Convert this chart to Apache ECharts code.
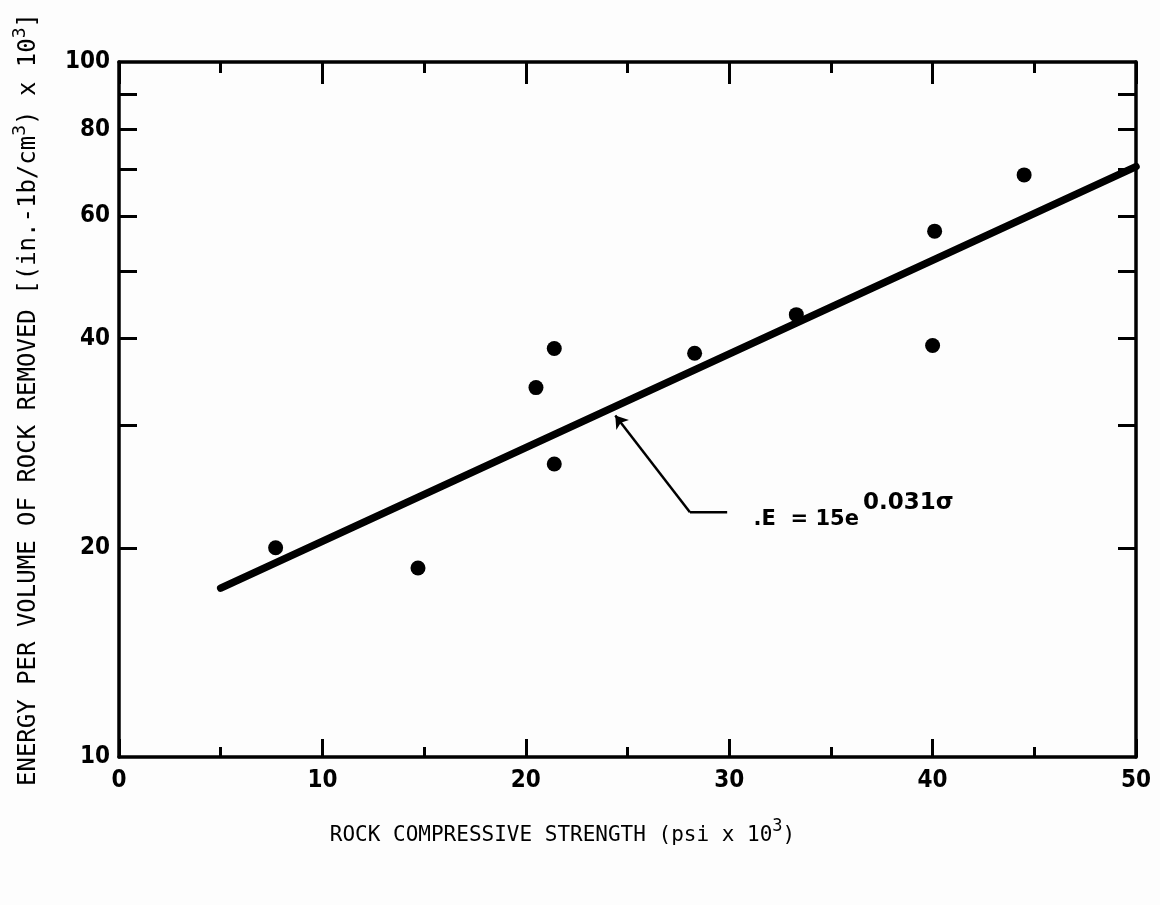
<!DOCTYPE html>
<html>
<head>
<meta charset="utf-8">
<script src="https://cdn.jsdelivr.net/npm/echarts@6/dist/echarts.min.js"></script>
<style>
html,body{margin:0;padding:0;background:#fdfdfd;}
#c{width:1160px;height:905px;}
</style>
</head>
<body>
<div id="c"></div>
<script>
// Data
const strength = [7.7, 14.7, 20.5, 21.4, 21.4, 28.3, 33.3, 40.1, 40.0, 44.5];
const energy   = [20.0, 18.7, 34.0, 38.7, 26.4, 38.1, 43.3, 57.1, 39.1, 68.8];
const fitStrength = [5, 50];
const fitEnergy   = [17.5, 70.7];
const xTickLabels = [0, 10, 20, 30, 40, 50];
const yTickValues = [20, 30, 40, 50, 60, 70, 80, 90];
const yLabelValues = [10, 20, 40, 60, 80, 100];
const leaderX = [29.9, 28.07, 24.4];
const leaderY = [22.5, 22.5, 31.0];
const equationAt = [31.2, 22.6];

const labelFont = "'Liberation Sans Narrow','DejaVu Sans Condensed',sans-serif";
const eqFont = "'DejaVu Sans',sans-serif";
const titleFont = "'DejaVu Sans Mono',monospace";
const black = '#000';

const chart = echarts.init(document.getElementById('c'), null, {renderer: 'canvas'});

const lineStyle = {color: black, width: 3.5};
const xBase = {
  type: 'value', min: 0, max: 50, interval: 10,
  axisLine: {show: true, onZero: false, lineStyle: lineStyle},
  splitLine: {show: false},
  axisTick: {show: true, inside: true, length: 18, lineStyle: {color: black, width: 3}},
  minorTick: {show: true, splitNumber: 2, length: 10, lineStyle: {color: black, width: 3}}
};
const yBase = {
  type: 'log', logBase: 10, min: 10, max: 100,
  axisLine: {show: true, onZero: false, lineStyle: lineStyle},
  splitLine: {show: false},
  axisTick: {show: true, inside: true, length: 18, lineStyle: {color: black, width: 3}, customValues: yTickValues}
};

const option = {
  backgroundColor: '#fdfdfd',
  animation: false,
  grid: {left: 119, right: 24, top: 62, bottom: 148, containLabel: false},
  xAxis: [
    Object.assign({}, xBase, {
      position: 'bottom',
      axisLabel: {
        show: true, margin: 12, color: black, fontFamily: labelFont,
        fontWeight: 'bold', fontSize: 24,
        formatter: v => xTickLabels.indexOf(v) >= 0 ? String(v) : ''
      },
      name: '{t|ROCK COMPRESSIVE STRENGTH (psi x 10}{s|3}{t|)}',
      nameLocation: 'middle',
      nameGap: 61,
      nameTextStyle: {
        padding: [0, 130, 0, 0],
        verticalAlign: 'top',
        rich: {
          t: {fontFamily: titleFont, fontSize: 21, color: black, verticalAlign: 'bottom'},
          s: {fontFamily: titleFont, fontSize: 17, color: black, verticalAlign: 'top', padding: [0, 0, 11, 0]}
        }
      }
    }),
    Object.assign({}, xBase, {position: 'top', axisLabel: {show: false},
      axisTick: {show: true, inside: true, length: 22, lineStyle: {color: black, width: 3}},
      minorTick: {show: true, splitNumber: 2, length: 11, lineStyle: {color: black, width: 3}}})
  ],
  yAxis: [
    Object.assign({}, yBase, {
      position: 'left',
      axisLabel: {show: true, margin: 9, color: black, fontFamily: labelFont, fontWeight: 'bold', fontSize: 24, customValues: yLabelValues},
      name: '{t|ENERGY PER VOLUME OF ROCK REMOVED [(in.-1b/cm}{s|3}{t|) x 10}{s|3}{t|]}',
      nameLocation: 'middle',
      nameGap: 78,
      nameRotate: 90,
      nameTextStyle: {
        padding: [0, 0, 0, 20],
        rich: {
          t: {fontFamily: titleFont, fontSize: 24, color: black, verticalAlign: 'bottom'},
          s: {fontFamily: titleFont, fontSize: 18, color: black, verticalAlign: 'top', padding: [0, 0, 12, 0]}
        }
      }
    }),
    Object.assign({}, yBase, {position: 'right', axisLabel: {show: false}})
  ],
  series: [
    {
      type: 'line', name: 'fit',
      data: fitStrength.map((x, i) => [x, fitEnergy[i]]),
      showSymbol: false, symbol: 'none',
      lineStyle: {color: black, width: 7.5, cap: 'round'},
      z: 3
    },
    {
      type: 'scatter', name: 'data',
      data: strength.map((x, i) => [x, energy[i]]),
      symbol: 'circle', symbolSize: 15,
      itemStyle: {color: black, opacity: 1},
      z: 4
    },
    {
      type: 'line', name: 'leader',
      data: leaderX.slice(0, 2).map((x, i) => [x, leaderY[i]]),
      showSymbol: false, symbol: 'none',
      lineStyle: {color: black, width: 2.5},
      z: 3
    },
    {
      type: 'lines', coordinateSystem: 'cartesian2d',
      data: [{coords: [[leaderX[1], leaderY[1]], [leaderX[2], leaderY[2]]]}],
      symbol: ['none', 'arrow'], symbolSize: [0, 12],
      lineStyle: {color: black, width: 2.5, opacity: 1, curveness: 0},
      z: 3
    },
    {
      type: 'scatter', name: 'eq',
      data: [equationAt],
      symbolSize: 0,
      silent: true,
      itemStyle: {opacity: 1},
      label: {
        show: true, position: 'right', distance: 0, color: black,
        formatter: '{m|.E  = 15e}{s|0.031σ}',
        rich: {
          m: {fontFamily: eqFont, fontWeight: 'bold', fontSize: 21, color: black, verticalAlign: 'bottom'},
          s: {fontFamily: eqFont, fontWeight: 'bold', fontSize: 23, color: black, verticalAlign: 'top', padding: [0, 0, 16, 4]}
        }
      }
    }
  ]
};
chart.setOption(option);
</script>
</body>
</html>
